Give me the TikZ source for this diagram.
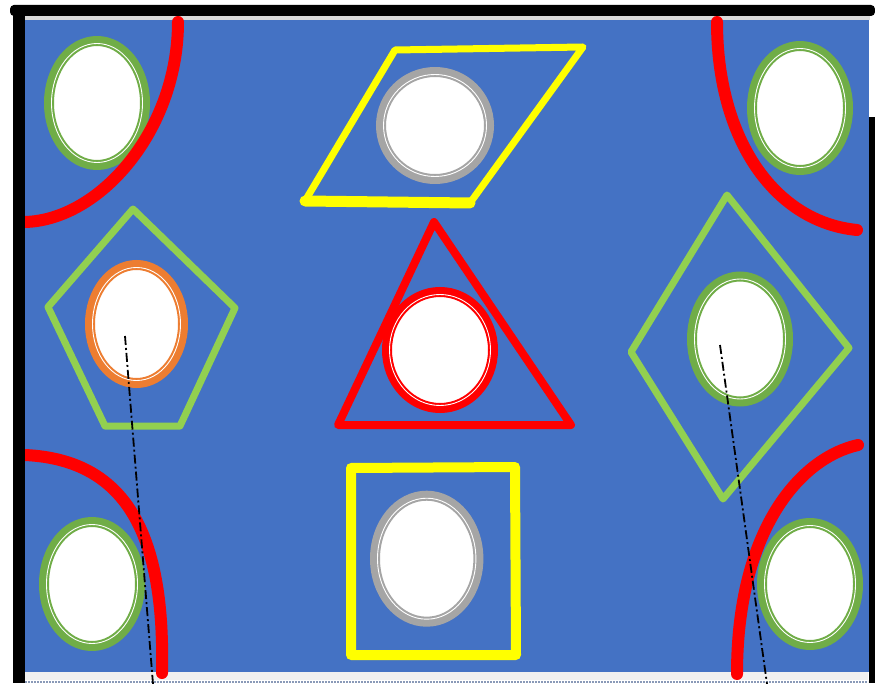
\documentclass[tikz,border=0pt]{standalone}
\definecolor{bgblue}{HTML}{4472C4}
\definecolor{ringgreen}{HTML}{70AD47}
\definecolor{limegreen}{HTML}{92D050}
\definecolor{ringorange}{HTML}{ED7D31}
\definecolor{ringgray}{HTML}{A5A5A5}
\definecolor{shapeyellow}{HTML}{FFFF00}
\definecolor{arcred}{HTML}{FF0000}
\definecolor{stripgray}{HTML}{F0F0F0}
\definecolor{topgray}{HTML}{D9D9D9}
\definecolor{dotline}{HTML}{8A9AB8}
\newcommand{\holering}[4]{%
  \draw[#1, line width=10pt, fill=white] #2 ellipse ({(#3-5)*1pt} and {(#4-5)*1pt});
  \draw[white, line width=0.9pt] #2 ellipse ({(#3-7.5)*1pt} and {(#4-7.5)*1pt});
}
\tikzset{
  redarc/.style={draw=arcred, line width=12pt, line cap=round},
  outline/.style={line width=#1, line join=round, line cap=round},
  axisline/.style={draw=black, line width=1.8pt, dash pattern=on 9pt off 3pt on 2pt off 3pt}
}
\begin{document}
\begin{tikzpicture}[x=1pt,y=-1pt]
\useasboundingbox (0,0) rectangle (875,684);
\fill[white] (0,0) rectangle (875,684);
% background
\fill[topgray] (25,16) rectangle (870,20);
\fill[bgblue] (25,20) rectangle (869,672);
\fill[stripgray] (25,672) rectangle (868,680);
\draw[dotline, line width=2.5pt, dash pattern=on 2pt off 1pt] (25,682) -- (868,682);

% holes with rings
\holering{ringgreen}{(97,103)}{53}{67}
\holering{ringgreen}{(800,108)}{53}{67}
\holering{ringgreen}{(92,584)}{53}{67}
\holering{ringgreen}{(810,584)}{53}{66}
\holering{ringorange}{(136.5,324)}{51.5}{64}
\holering{arcred}{(440,350)}{58}{63}
\holering{ringgray}{(435,125.5)}{59}{58.5}
\holering{ringgray}{(426.7,558.7)}{56.7}{68}
\holering{ringgreen}{(740,339)}{53}{67.5}

% parallelogram
\coordinate (pa) at (395,50);
\coordinate (pb) at (583,47);
\coordinate (pc) at (470,203);
\coordinate (pd) at (305,201);
\draw[shapeyellow, outline=7pt] (pa) -- (pb) -- (pc) -- (pd) -- cycle;
\draw[shapeyellow, outline=11pt] (pd) -- (pc);

% triangle
\coordinate (ta) at (434,222);
\coordinate (tb) at (571,425);
\coordinate (tc) at (338,425);
\draw[arcred, outline=8pt] (ta) -- (tb) -- (tc) -- cycle;

% square
\coordinate (sa) at (351,468);
\coordinate (sb) at (515,467);
\coordinate (sc) at (516,655);
\coordinate (sd) at (351,655);
\draw[shapeyellow, outline=10pt] (sa) -- (sb) -- (sc) -- (sd) -- cycle;

% pentagon
\coordinate (qa) at (133,209);
\coordinate (qb) at (235,308);
\coordinate (qc) at (180,426);
\coordinate (qd) at (105,426);
\coordinate (qe) at (48,307);
\draw[limegreen, outline=7pt] (qa) -- (qb) -- (qc) -- (qd) -- (qe) -- cycle;

% diamond
\coordinate (da) at (727,195);
\coordinate (db) at (849,348);
\coordinate (dc) at (723,499);
\coordinate (dd) at (631,352);
\draw[limegreen, outline=7pt] (da) -- (db) -- (dc) -- (dd) -- cycle;

% red arcs
\path[redarc] (178,22) .. controls (178,130) and (100,220) .. (25,222);
\path[redarc] (717,22) .. controls (717,140) and (775,222) .. (857,230);
\path[redarc] (25,455) .. controls (130,460) and (165,540) .. (162,673);
\path[redarc] (858,445) .. controls (800,458) and (737,530) .. (737,674);

% dash-dot axes
\coordinate (la) at (125,336);
\coordinate (lb) at (153,684);
\coordinate (ra) at (720,345);
\coordinate (rb) at (767,684);
\path[axisline] (la) -- (lb);
\path[axisline] (ra) -- (rb);

% frame
\fill[black] (13,5) rectangle (25,683);
\fill[black, rounded corners=4pt] (10,5) rectangle (875,16);
\fill[black] (869,117) rectangle (875,683);
\end{tikzpicture}
\end{document}
